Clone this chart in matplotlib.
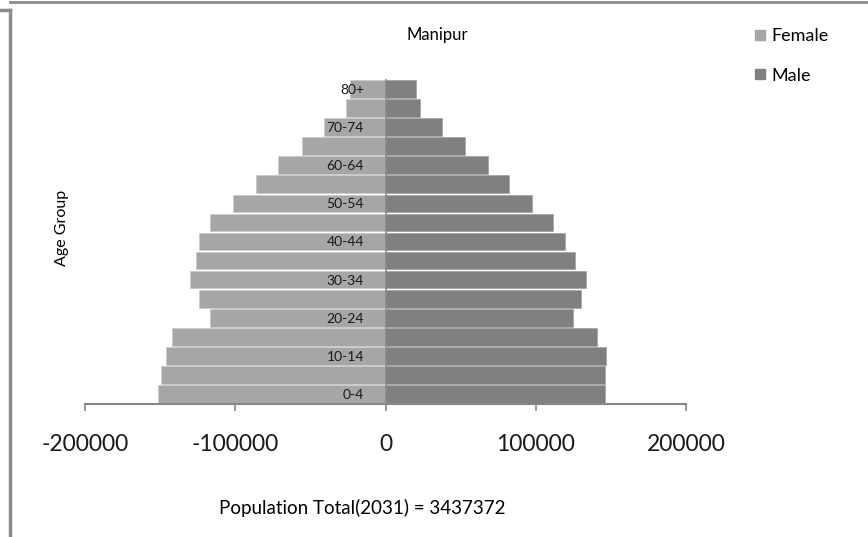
import matplotlib
matplotlib.use("Agg")
import matplotlib.pyplot as plt
from matplotlib.lines import Line2D
import numpy as np

plt.rcParams['font.family'] = ['Lato', 'DejaVu Sans']

age_groups = ['0-4', '5-9', '10-14', '15-19', '20-24', '25-29', '30-34', '35-39',
              '40-44', '45-49', '50-54', '55-59', '60-64', '65-69', '70-74',
              '75-79', '80+']
female = [-151100, -149500, -146000, -141800, -116500, -124300, -129800, -126300,
          -123800, -116900, -101600, -85900, -71400, -55900, -40600, -26600, -23300]
male = [145800, 146200, 146600, 140600, 124900, 130000, 133300, 125800,
        119300, 111800, 97600, 82300, 68300, 52600, 37300, 23100, 19970]
xticks = [-200000, -100000, 0, 100000, 200000]
title = 'Manipur'
total_note = 'Population Total(2031) = 3437372'

W, H = 868, 537
fig = plt.figure(figsize=(W / 100, H / 100), dpi=100)
ax = fig.add_axes([85 / W, (H - 403.5) / H, 601 / W, 324 / H])

y = np.arange(len(age_groups))
ax.barh(y, female, height=0.93, color='#A6A6A6', edgecolor='#c8c8c8',
        linewidth=0.5, label='Female', zorder=1)
ax.barh(y, male, height=0.93, color='#808080', edgecolor='#a0a0a0',
        linewidth=0.5, label='Male', zorder=1)

ax.set_xlim(-200000, 200000)
ax.set_ylim(-0.5, len(age_groups) - 0.5)

for s in ['top', 'right']:
    ax.spines[s].set_visible(False)
ax.spines['left'].set_position(('data', 0))
ax.spines['left'].set_color('#868686')
ax.spines['left'].set_linewidth(1.2)
ax.spines['bottom'].set_color('#868686')
ax.spines['bottom'].set_linewidth(1.5)
ax.spines['left'].set_zorder(3)

ax.set_xticks(xticks)
ax.set_xticklabels([str(v) for v in xticks], fontsize=16.5, color='#1a1a1a')
ax.tick_params(axis='x', length=5, width=1.2, color='#868686', pad=17)

ax.set_yticks(y[::2])
ax.set_yticklabels(age_groups[::2], fontsize=10, color='#1a1a1a')
ax.tick_params(axis='y', length=0, pad=15.5)

fig.text(437 / W, 1 - 35 / H, title, ha='center', va='center', fontsize=12)
fig.text(62 / W, 1 - 228 / H, 'Age Group', ha='center', va='center',
         rotation=90, fontsize=11.5)
fig.text(362 / W, 1 - 508 / H, total_note, ha='center', va='center', fontsize=13.5)

handles = [Line2D([], [], marker='s', linestyle='none', markersize=6.5,
                  markerfacecolor='#A6A6A6', markeredgecolor='#A6A6A6'),
           Line2D([], [], marker='s', linestyle='none', markersize=6.5,
                  markerfacecolor='#808080', markeredgecolor='#808080')]
fig.legend(handles, ['Female', 'Male'], loc='upper left',
           bbox_to_anchor=(737 / W, 1 - 12 / H), frameon=False, fontsize=13,
           handletextpad=0.2, labelspacing=1.3, handlelength=0.8)

# outer frame
fig.add_artist(Line2D([9.5 / W, 9.5 / W], [0, 1 - 10 / H], color='#8c8c8c', lw=2.5))
fig.add_artist(Line2D([0, 9.5 / W], [1 - 10 / H, 1 - 10 / H], color='#8c8c8c', lw=2.5))
fig.add_artist(Line2D([10 / W, 1], [1 - 2 / H, 1 - 2 / H], color='#8c8c8c', lw=2))

fig.savefig('out.png', dpi=100)
